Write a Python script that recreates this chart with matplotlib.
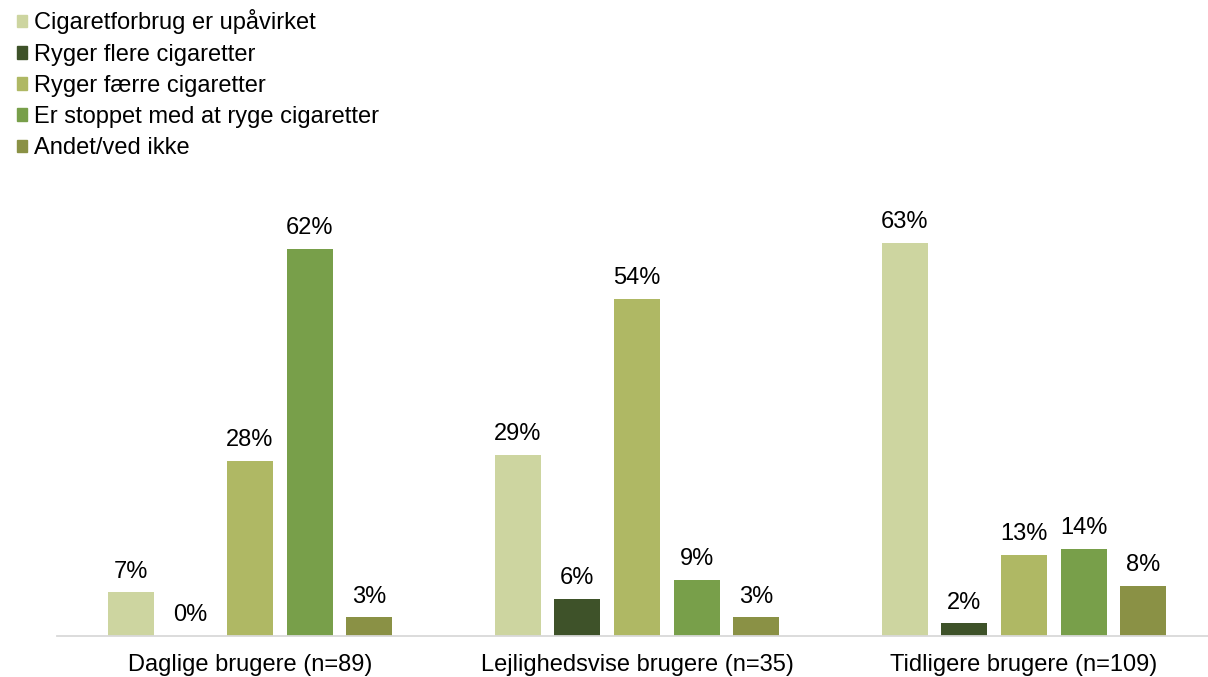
import matplotlib.pyplot as plt
from matplotlib.patches import Patch
import numpy as np

plt.rcParams['font.family'] = ['Liberation Sans', 'DejaVu Sans']

grupper = ['Daglige brugere (n=89)', 'Lejlighedsvise brugere (n=35)', 'Tidligere brugere (n=109)']
serier = ['Cigaretforbrug er upåvirket', 'Ryger flere cigaretter', 'Ryger færre cigaretter',
          'Er stoppet med at ryge cigaretter', 'Andet/ved ikke']
vaerdier = [
    [7, 29, 63],
    [0, 6, 2],
    [28, 54, 13],
    [62, 9, 14],
    [3, 3, 8],
]
farver = ['#CDD5A0', '#3E5229', '#AFB864', '#789F4A', '#8A9145']

fig = plt.figure(figsize=(12.08, 6.77), dpi=100)
ax = fig.add_axes([0.0468, 0.0606, 0.961, 0.6455])

x = np.arange(len(grupper))
pitch = 0.154
bredde = 0.119
for i, (navn, v, f) in enumerate(zip(serier, vaerdier, farver)):
    pos = x + (i - 2) * pitch
    ax.bar(pos, v, width=bredde, color=f, label=navn)
    for px, val in zip(pos, v):
        ax.annotate(f'{val}%', (px, val), xytext=(0, 7), textcoords='offset points',
                    ha='center', va='bottom', fontsize=17)

ax.set_xlim(-0.5, 2.5)
ax.set_ylim(0, 70)
ax.set_xticks(x)
ax.set_xticklabels(grupper, fontsize=17)
ax.tick_params(axis='x', length=0, pad=13)
ax.set_yticks([])
for s in ['top', 'right', 'left']:
    ax.spines[s].set_visible(False)
ax.spines['bottom'].set_color('#D9D9D9')
ax.spines['bottom'].set_linewidth(1.3)

handles = [Patch(color=f) for f in farver]
fig.legend(handles, serier, loc='upper left', bbox_to_anchor=(0.002, 1.007), frameon=False,
           fontsize=17, handlelength=0.45, handleheight=0.45, handletextpad=0.3,
           labelspacing=0.39, borderaxespad=0.2)

fig.savefig('out.png', dpi=100)
